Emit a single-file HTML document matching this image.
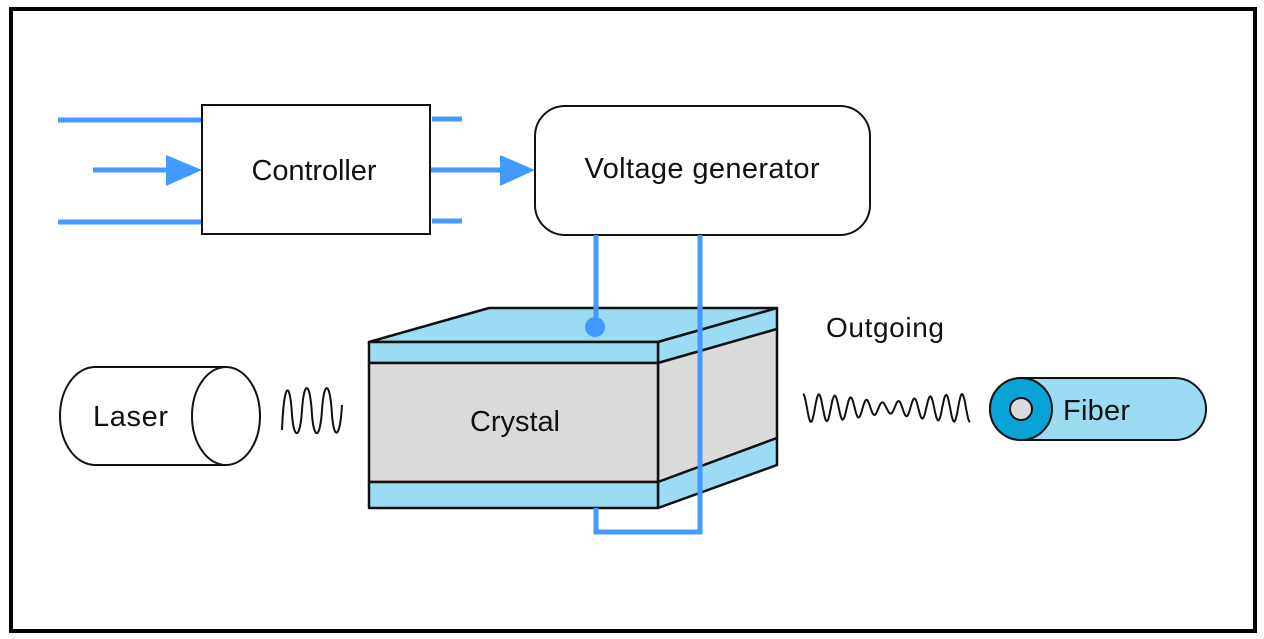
<!DOCTYPE html>
<html><head><style>body{margin:0;background:#fff}svg{display:block}text{font-family:"Liberation Sans",sans-serif;fill:#111}</style></head>
<body>
<svg width="1264" height="639" viewBox="0 0 1264 639" xmlns="http://www.w3.org/2000/svg">
<rect x="11" y="9" width="1244" height="622" fill="#fff" stroke="#000" stroke-width="4"/>
<g stroke="#4499ff" stroke-width="5" fill="none">
<line x1="58" y1="120" x2="202" y2="120"/>
<line x1="58" y1="222" x2="202" y2="222"/>
<line x1="93" y1="170" x2="170" y2="170"/>
<line x1="432" y1="119" x2="462" y2="119"/>
<line x1="432" y1="221" x2="462" y2="221"/>
<line x1="430" y1="170" x2="505" y2="170"/>
</g>
<polygon points="166,155 202,170 166,186" fill="#4499ff"/>
<polygon points="500,155 535,170 500,186" fill="#4499ff"/>
<rect x="202" y="105" width="228" height="129" fill="#fff" stroke="#111" stroke-width="2"/>
<text x="314" y="180" font-size="29" text-anchor="middle" textLength="125">Controller</text>
<rect x="535" y="106" width="335" height="129" rx="30" fill="#fff" stroke="#111" stroke-width="2"/>
<text x="702" y="178" font-size="29" text-anchor="middle" textLength="235">Voltage generator</text>
<g stroke="#111" stroke-width="2.5" stroke-linejoin="round">
<polygon points="369,342 489,308 777,308 658,342" fill="#9bdcf2"/>
<polygon points="658,342 777,308 777,329 658,363" fill="#9bdcf2"/>
<polygon points="658,363 777,329 777,438 658,482" fill="#d9dbdb"/>
<polygon points="658,482 777,438 777,465 658,508" fill="#9bdcf2"/>
<rect x="369" y="342" width="289" height="21" fill="#9bdcf2"/>
<rect x="369" y="363" width="289" height="119" fill="#d9dbdb"/>
<rect x="369" y="482" width="289" height="26" fill="#9bdcf2"/>
</g>
<text x="515" y="431" font-size="29" text-anchor="middle" textLength="90">Crystal</text>
<g stroke="#4499ff" stroke-width="5" fill="none">
<line x1="596" y1="235" x2="596" y2="327"/>
<polyline points="700,235 700,532 596,532 596,508"/>
</g>
<circle cx="595" cy="327" r="10" fill="#4499ff"/>
<text x="826" y="337" font-size="28" textLength="118">Outgoing</text>
<path d="M226,367 L95,367 A35,49 0 0 0 95,465 L226,465" fill="#fff" stroke="#111" stroke-width="2"/>
<ellipse cx="226" cy="416" rx="34" ry="49" fill="#fff" stroke="#111" stroke-width="2"/>
<text x="93" y="426" font-size="29" textLength="75">Laser</text>
<path d="M282,430 C284,380 290,380 292,415 C294,440 300,440 302,410 C304,380 310,380 312,415 C314,440 320,440 322,410 C324,380 330,380 332,415 C334,440 340,440 342,405" fill="none" stroke="#111" stroke-width="2"/>
<path id="w" d="" fill="none" stroke="#111" stroke-width="2"/>
<rect x="990" y="378" width="216" height="62" rx="31" fill="#9bdcf2" stroke="#111" stroke-width="2"/>
<circle cx="1021" cy="409" r="31" fill="#0aa3d6" stroke="#111" stroke-width="2"/>
<circle cx="1021" cy="409" r="11" fill="#d9dbdb" stroke="#111" stroke-width="2"/>
<text x="1063" y="420" font-size="29" textLength="67">Fiber</text>
<script>
(function(){var d="",x0=803,x1=970,n=400;for(var i=0;i<=n;i++){var t=i/n,x=x0+(x1-x0)*t;var a=14*(0.35+0.65*Math.abs(Math.cos(Math.PI*t)));var y=408-a*Math.sin(2*Math.PI*10.5*t+Math.PI/2);d+=(i?"L":"M")+x.toFixed(1)+","+y.toFixed(1);}document.getElementById("w").setAttribute("d",d);})();
</script>
</svg>
</body></html>
